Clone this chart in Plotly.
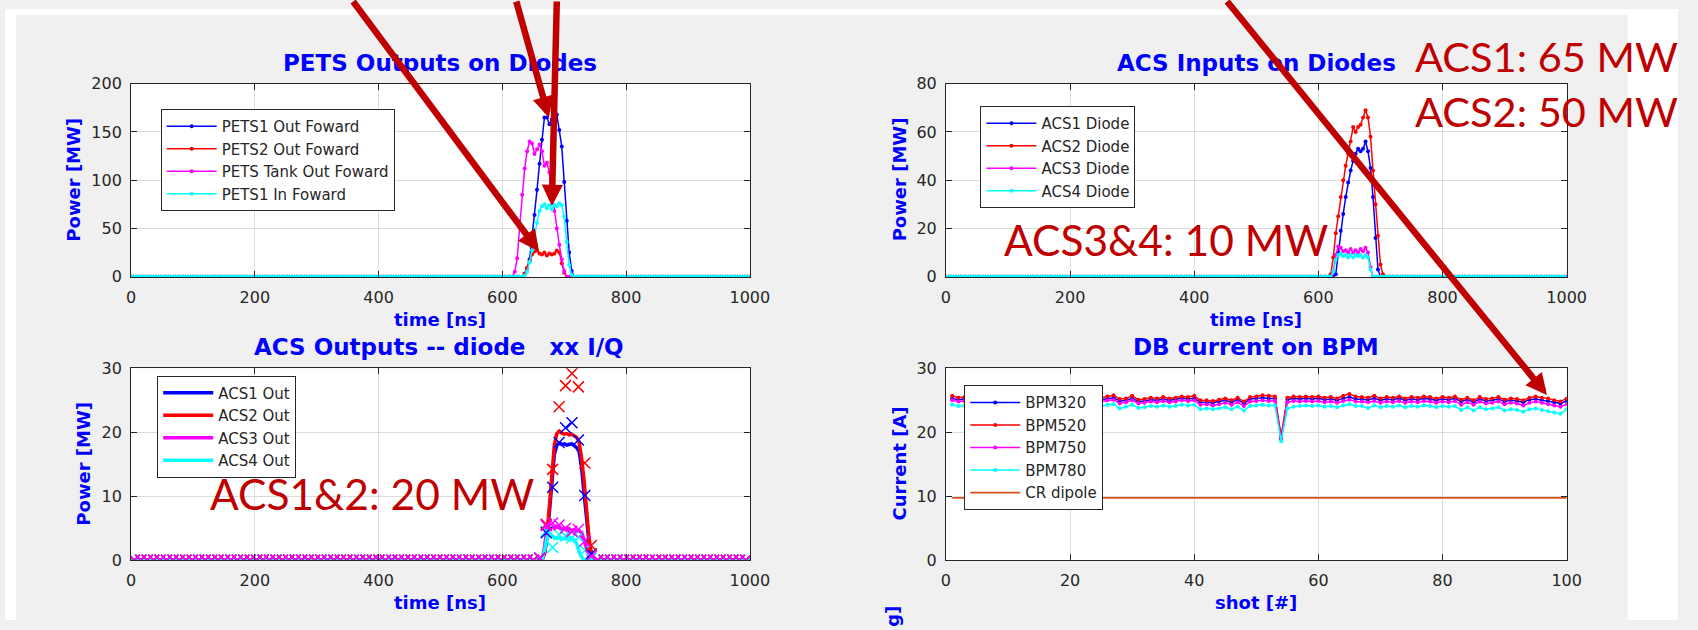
import numpy as np
import plotly.graph_objects as go

W, H = 1698, 630

def px(x):
    return x / W

def py(y):
    return 1 - y / H

# ---------------- DATA ----------------
BASELINE = 0.0          # all diode/IQ signals sit at ~0 outside the pulse
GRID_NS = list(range(0, 1001, 4))   # diode sampling grid [ns]

# Panel 1: PETS Outputs on Diodes [MW]
pets_t = [612, 616, 620, 624, 628, 632, 636, 640, 644, 648, 652, 656, 660, 664,
          668, 672, 676, 680, 684, 688, 692, 696, 700, 704, 708, 712, 716, 720]
pets1_out = [0, 0, 0, 0, 0, 0, 3, 9, 18, 40, 64, 90, 117, 142,
             165, 165, 158, 163, 170, 168, 152, 135, 98, 58, 25, 6, 0, 0]
pets2_out = [0, 0, 0, 0, 0, 0, 3, 9, 16, 23, 26, 27, 24, 23,
             25, 22, 24, 23, 24, 27, 25, 14, 4, 0, 0, 0, 0, 0]
pets_tank_out = [0, 0, 5, 19, 52, 85, 112, 130, 140, 138, 127, 132, 137, 130,
                 115, 118, 108, 88, 68, 50, 33, 18, 6, 0, 0, 0, 0, 0]
pets1_in = [0, 0, 0, 0, 0, 0, 1, 5, 15, 27, 42, 56, 68, 73,
            75, 71, 74, 70, 74, 73, 76, 74, 62, 36, 12, 2, 0, 0]

# Panel 2: ACS Inputs on Diodes [MW]
acsin_t = [612, 616, 620, 624, 628, 632, 636, 640, 644, 648, 652, 656, 660,
           664, 668, 672, 676, 680, 684, 688, 692, 696, 700, 704, 708, 712]
acs1_diode = [0, 0, 0, 0, 1, 10, 19, 26, 33, 39, 44, 48, 51,
              53, 52, 53, 56, 52, 45, 33, 16, 3, 0, 0, 0, 0]
acs2_diode = [0, 0, 1, 8, 18, 25, 33, 40, 46, 51, 56, 62, 60,
              62, 63, 66, 69, 66, 58, 44, 30, 17, 5, 1, 0, 0]
acs3_diode = [0, 0, 0, 2, 9, 12.5, 12, 10.5, 11, 10, 11.5, 10, 11,
              10, 11.5, 10.5, 12, 10, 4, 0, 0, 0, 0, 0, 0, 0]
acs4_diode = [0, 0, 0, 2, 7, 9, 9.5, 8.5, 9, 8, 9, 8, 9,
              8.5, 9, 8, 9, 8, 3, 0, 0, 0, 0, 0, 0, 0]

# Panel 3: ACS Outputs -- diode (lines) [MW]
acsout_t = [660, 664, 668, 672, 676, 680, 684, 688, 692, 696, 700, 704,
            708, 712, 716, 720, 724, 728, 732, 736, 740, 744, 748, 752]
acs1_out = [0, 0, 1, 3.5, 7.5, 12.5, 16.5, 18, 18.3, 18.1, 18.2, 18,
            18.1, 18.2, 17.9, 17.6, 17, 14.5, 10.5, 6.5, 2.8, 0.8, 0, 0]
acs2_out = [0, 0, 1, 4, 8.5, 13.5, 18, 19.8, 20.2, 19.9, 19.7, 19.8,
            19.6, 19.7, 19.4, 19.2, 18.5, 16, 12.5, 8, 3.5, 1, 0, 0]
acs3_out = [0, 0, 2, 5, 5.6, 5.3, 5, 5.3, 5, 4.8, 5, 4.7,
            4.9, 4.6, 4.8, 4.5, 4.6, 4.3, 3.2, 1.6, 0.5, 0, 0, 0]
acs4_out = [0, 0, 1.5, 3.5, 4.2, 3.8, 3.5, 3.4, 3.5, 3.3, 3.4, 3.3,
            3.5, 3.4, 3.2, 2.6, 1.3, 0.5, 0, 0, 0, 0, 0, 0]

# Panel 3: I/Q points (x markers), sampled every ~10.4 ns
IQ_GRID_NS = [round(5.3 + 10.4 * k, 1) for k in range(96)]
iq_t = [660.5, 670.9, 681.3, 691.7, 702.1, 712.5, 722.9, 733.3, 743.7]
acs1_iq = [0.3, 4.3, 11.4, 18.4, 20.7, 21.5, 18.8, 10.1, 1.0]
acs2_iq = [0.3, 5.6, 14.2, 24.0, 27.3, 29.2, 27.1, 15.2, 2.3]
acs3_iq = [0.3, 5.4, 5.8, 5.5, 5.0, 4.5, 4.8, 3.0, 0.6]
acs4_iq = [0.3, 4.5, 2.0, 4.0, 3.8, 3.5, 3.6, 1.5, 0.3]

# Panel 4: DB current on BPM [A] vs shot
shots = list(range(1, 101))
bpm320 = [25.3, 25.1, 25.2, 25.0, 25.1, 25.2, 25.0, 25.1, 25.3, 25.1,
          25.0, 25.2, 25.1, 24.9, 25.1, 25.2, 25.0, 25.1, 25.0, 25.2,
          25.1, 24.9, 25.2, 25.0, 25.1, 25.3, 25.4, 24.9, 25.0, 25.3,
          24.8, 24.9, 25.1, 25.0, 25.2, 25.0, 25.1, 25.3, 25.2, 25.3,
          24.7, 24.7, 24.6, 24.8, 25.0, 24.7, 25.1, 24.5, 25.2, 25.3,
          25.4, 25.3, 25.3, 19.1, 25.1, 25.3, 25.2, 25.3, 25.2, 25.3,
          25.1, 25.2, 25.0, 25.3, 25.5, 25.2, 25.2, 25.1, 25.3, 25.0,
          25.2, 25.1, 25.3, 25.0, 25.2, 25.1, 25.3, 25.2, 25.0, 25.2,
          25.1, 25.3, 24.8, 25.1, 24.7, 25.2, 24.9, 25.0, 25.2, 24.8,
          25.0, 24.9, 24.7, 25.1, 25.2, 25.0, 24.9, 24.7, 24.5, 24.9]
bpm520 = [25.7, 25.4, 25.5, 25.3, 25.4, 25.5, 25.3, 25.4, 25.6, 25.4,
          25.3, 25.5, 25.4, 25.2, 25.4, 25.5, 25.3, 25.4, 25.3, 25.5,
          25.4, 25.2, 25.5, 25.3, 25.4, 25.6, 25.8, 25.2, 25.3, 25.7,
          25.1, 25.2, 25.4, 25.3, 25.5, 25.3, 25.4, 25.6, 25.5, 25.7,
          25.0, 25.0, 24.9, 25.1, 25.3, 25.0, 25.4, 24.8, 25.5, 25.6,
          25.8, 25.7, 25.6, 19.4, 25.4, 25.6, 25.5, 25.6, 25.5, 25.6,
          25.4, 25.5, 25.3, 25.7, 26.0, 25.6, 25.5, 25.4, 25.7, 25.3,
          25.5, 25.4, 25.6, 25.3, 25.5, 25.4, 25.6, 25.5, 25.3, 25.5,
          25.4, 25.6, 25.1, 25.4, 25.0, 25.5, 25.2, 25.3, 25.5, 25.1,
          25.3, 25.2, 25.0, 25.4, 25.6, 25.4, 25.3, 25.0, 24.8, 25.3]
bpm750 = [25.0, 24.8, 24.9, 24.7, 24.8, 24.9, 24.7, 24.8, 25.0, 24.8,
          24.7, 24.9, 24.8, 24.6, 24.8, 24.9, 24.7, 24.8, 24.7, 24.9,
          24.8, 24.6, 24.9, 24.7, 24.8, 25.0, 25.1, 24.5, 24.7, 25.0,
          24.5, 24.6, 24.8, 24.7, 24.9, 24.7, 24.8, 25.0, 24.9, 25.0,
          24.3, 24.4, 24.2, 24.4, 24.6, 24.3, 24.7, 24.1, 24.8, 24.9,
          25.0, 24.9, 24.9, 18.9, 24.7, 24.9, 24.8, 24.9, 24.8, 24.9,
          24.7, 24.8, 24.6, 24.9, 25.1, 24.8, 24.8, 24.7, 24.9, 24.6,
          24.8, 24.7, 24.9, 24.6, 24.8, 24.7, 24.9, 24.8, 24.6, 24.8,
          24.7, 24.9, 24.3, 24.7, 24.3, 24.8, 24.5, 24.6, 24.8, 24.4,
          24.6, 24.5, 24.2, 24.6, 24.8, 24.6, 24.4, 24.2, 24.0, 24.4]
bpm780 = [24.3, 24.1, 24.2, 24.0, 24.1, 24.2, 24.0, 24.1, 24.3, 24.1,
          24.0, 24.2, 24.1, 23.9, 24.1, 24.2, 24.0, 24.1, 24.0, 24.2,
          24.1, 23.9, 24.2, 24.0, 24.1, 24.3, 24.4, 23.7, 24.0, 24.3,
          23.8, 23.9, 24.1, 24.0, 24.2, 24.0, 24.1, 24.3, 24.2, 24.3,
          23.6, 23.7, 23.6, 23.7, 23.9, 23.6, 24.0, 23.4, 24.1, 24.2,
          24.3, 24.2, 24.2, 18.6, 23.7, 24.0, 24.1, 24.2, 24.1, 24.2,
          24.0, 24.1, 23.9, 24.2, 24.4, 24.1, 24.1, 23.8, 24.2, 23.9,
          24.1, 24.0, 24.2, 23.9, 24.1, 24.0, 24.2, 24.1, 23.9, 24.1,
          24.0, 24.1, 23.5, 23.9, 23.4, 23.9, 23.6, 23.7, 23.9, 23.4,
          23.6, 23.5, 23.2, 23.6, 23.7, 23.5, 23.3, 23.1, 22.9, 23.6]
cr_dipole = [9.75, 9.75, 9.75, 9.75, 9.75, 9.75, 9.75, 9.75, 9.75, 9.75,
             9.75, 9.75, 9.75, 9.75, 9.75, 9.75, 9.75, 9.75, 9.75, 9.75,
             9.75, 9.75, 9.75, 9.75, 9.75, 9.75, 9.75, 9.75, 9.75, 9.75,
             9.75, 9.75, 9.75, 9.75, 9.75, 9.75, 9.75, 9.75, 9.75, 9.75,
             9.75, 9.75, 9.75, 9.75, 9.75, 9.75, 9.75, 9.75, 9.75, 9.75,
             9.75, 9.75, 9.75, 9.75, 9.75, 9.75, 9.75, 9.75, 9.75, 9.75,
             9.75, 9.75, 9.75, 9.75, 9.75, 9.75, 9.75, 9.75, 9.75, 9.75,
             9.75, 9.75, 9.75, 9.75, 9.75, 9.75, 9.75, 9.75, 9.75, 9.75,
             9.75, 9.75, 9.75, 9.75, 9.75, 9.75, 9.75, 9.75, 9.75, 9.75,
             9.75, 9.75, 9.75, 9.75, 9.75, 9.75, 9.75, 9.75, 9.75, 9.75]

# ---------------- helpers ----------------
def full_series(grid, pulse_t, pulse_v, base=BASELINE):
    before = [g for g in grid if g < pulse_t[0]]
    after = [g for g in grid if g > pulse_t[-1]]
    t = before + list(pulse_t) + after
    v = [base] * len(before) + list(pulse_v) + [base] * len(after)
    return t, v

BLUE, RED, MAG, CYAN, ORANGE = '#0000FF', '#FF0000', '#FF00FF', '#00FFFF', '#D95319'
TXT = '#262626'
DARKRED = '#C00000'

fig = go.Figure()

def add_dotline(t, v, name, color, xa, ya, leg):
    fig.add_trace(go.Scatter(x=t, y=v, name=name, mode='lines+markers',
                             line=dict(color=color, width=1.5),
                             marker=dict(color=color, size=4),
                             xaxis=xa, yaxis=ya, legend=leg))

# Panel 1
for vals, name, col in [(pets1_out, 'PETS1 Out Foward', BLUE),
                        (pets2_out, 'PETS2 Out Foward', RED),
                        (pets_tank_out, 'PETS Tank Out Foward', MAG),
                        (pets1_in, 'PETS1 In Foward', CYAN)]:
    t, v = full_series(GRID_NS, pets_t, vals)
    add_dotline(t, v, name, col, 'x', 'y', 'legend')

# Panel 2
for vals, name, col in [(acs1_diode, 'ACS1 Diode', BLUE),
                        (acs2_diode, 'ACS2 Diode', RED),
                        (acs3_diode, 'ACS3 Diode', MAG),
                        (acs4_diode, 'ACS4 Diode', CYAN)]:
    t, v = full_series(GRID_NS, acsin_t, vals)
    add_dotline(t, v, name, col, 'x2', 'y2', 'legend2')

# Panel 3 lines
for vals, name, col in [(acs1_out, 'ACS1 Out', BLUE),
                        (acs2_out, 'ACS2 Out', RED),
                        (acs3_out, 'ACS3 Out', MAG),
                        (acs4_out, 'ACS4 Out', CYAN)]:
    t, v = full_series(GRID_NS, acsout_t, vals)
    fig.add_trace(go.Scatter(x=t, y=v, name=name, mode='lines',
                             line=dict(color=col, width=3.5),
                             xaxis='x3', yaxis='y3', legend='legend3'))
# Panel 3 IQ markers
for vals, col in [(acs4_iq, CYAN), (acs1_iq, BLUE), (acs2_iq, RED), (acs3_iq, MAG)]:
    t, v = full_series(IQ_GRID_NS, iq_t, vals)
    fig.add_trace(go.Scatter(x=t, y=v, mode='markers', showlegend=False,
                             marker=dict(symbol='x-thin-open', size=11, color=col,
                                         line=dict(color=col, width=1.5)),
                             xaxis='x3', yaxis='y3'))

# Panel 4
for vals, name, col in [(bpm320, 'BPM320', BLUE), (bpm520, 'BPM520', RED),
                        (bpm750, 'BPM750', MAG), (bpm780, 'BPM780', CYAN)]:
    fig.add_trace(go.Scatter(x=shots, y=vals, name=name, mode='lines+markers',
                             line=dict(color=col, width=1.5),
                             marker=dict(color=col, size=4),
                             xaxis='x4', yaxis='y4', legend='legend4'))
fig.add_trace(go.Scatter(x=shots, y=cr_dipole, name='CR dipole', mode='lines',
                         line=dict(color=ORANGE, width=1.8),
                         xaxis='x4', yaxis='y4', legend='legend4'))

# ---------------- layout ----------------
X_L = (128, 756)
X_R = (955, 1585)
Y_T = (77, 276)
Y_B = (370.5, 568.3)

def xdom(r):
    return [px(r[0]), px(r[1])]

def ydom(r):
    return [py(r[1]), py(r[0])]

tickfont = dict(family='DejaVu Sans', size=16, color=TXT)
axis_common = dict(showline=True, linecolor=TXT, linewidth=1, mirror='ticks',
                   ticks='inside', ticklen=6, tickcolor=TXT, showgrid=True,
                   gridcolor='#dcdcdc', gridwidth=1, zeroline=False,
                   tickfont=tickfont, fixedrange=True)

def xa(r, rng, dtick, anchor):
    d = dict(axis_common)
    d.update(domain=xdom(r), range=rng, dtick=dtick, tick0=0, anchor=anchor,
             ticklabelstandoff=6)
    return d

def ya(r, rng, dtick, anchor):
    d = dict(axis_common)
    d.update(domain=ydom(r), range=rng, dtick=dtick, tick0=0, anchor=anchor,
             ticklabelstandoff=5)
    return d

legfont = dict(family='DejaVu Sans', size=15, color=TXT)

def leg(x, y):
    return dict(x=px(x), y=py(y), xanchor='left', yanchor='top', bgcolor='white',
                bordercolor=TXT, borderwidth=1, font=legfont, tracegroupgap=0,
                itemwidth=50)

ann = []

def text_ann(x, y, text, size, color, bold=False, angle=0, xanchor='center',
             yanchor='middle', family='DejaVu Sans'):
    ann.append(dict(x=px(x), y=py(y), xref='paper', yref='paper', text=text,
                    showarrow=False, textangle=angle, xanchor=xanchor,
                    yanchor=yanchor,
                    font=dict(family=family, size=size, color=color,
                              weight='bold' if bold else 'normal')))

# titles
text_ann(442, 56, 'PETS Outputs on Diodes', 23, BLUE, bold=True)
text_ann(1270, 56, 'ACS Inputs on Diodes', 23, BLUE, bold=True)
text_ann(440, 349, 'ACS Outputs -- diode   xx I/Q', 23, BLUE, bold=True)
text_ann(1270, 349, 'DB current on BPM', 23, BLUE, bold=True)
# axis titles
text_ann(442, 320, 'time [ns]', 18, BLUE, bold=True)
text_ann(1270, 320, 'time [ns]', 18, BLUE, bold=True)
text_ann(442, 612, 'time [ns]', 18, BLUE, bold=True)
text_ann(1270, 612, 'shot [#]', 18, BLUE, bold=True)
text_ann(70, 176, 'Power [MW]', 18, BLUE, bold=True, angle=-90)
text_ann(908, 176, 'Power [MW]', 18, BLUE, bold=True, angle=-90)
text_ann(80, 469, 'Power [MW]', 18, BLUE, bold=True, angle=-90)
text_ann(908, 469, 'Current [A]', 18, BLUE, bold=True, angle=-90)
text_ann(900, 613, 'g]', 18, BLUE, bold=True, angle=-90, yanchor='top')

# overlay annotations (red)
RED_FONT = 'Lato'
text_ann(1429, 48, 'ACS1: 65 MW', 41.5, DARKRED, family=RED_FONT, xanchor='left')
text_ann(1429, 105, 'ACS2: 50 MW', 41.5, DARKRED, family=RED_FONT, xanchor='left')
text_ann(1012, 238, 'ACS3&4: 10 MW', 42.5, DARKRED, family=RED_FONT, xanchor='left')
text_ann(206, 500, 'ACS1&2: 20 MW', 42.5, DARKRED, family=RED_FONT, xanchor='left')

def arrow(tip, tail):
    ann.append(dict(x=px(tip[0]), y=py(tip[1]), xref='paper', yref='paper',
                    ax=tail[0] - tip[0], ay=tail[1] - tip[1], text='',
                    showarrow=True, arrowhead=2, arrowsize=0.65, arrowwidth=6.5,
                    arrowcolor=DARKRED))

arrow((542, 250), (355, -10))
arrow((552, 112), (519, -11))
arrow((555, 203), (560, -10))
arrow((1565, 398), (1244, -12))

shapes = [
    dict(type='rect', xref='paper', yref='paper', x0=0, x1=px(11), y0=0, y1=1,
         fillcolor='white', line=dict(width=0), layer='below'),
    dict(type='rect', xref='paper', yref='paper', x0=0, x1=1, y0=py(6), y1=1,
         fillcolor='white', line=dict(width=0), layer='below'),
    dict(type='rect', xref='paper', yref='paper', x0=px(1647), x1=1, y0=0, y1=1,
         fillcolor='white', line=dict(width=0), layer='below'),
]

fig.update_layout(
    width=W, height=H, autosize=False,
    margin=dict(l=0, r=0, t=0, b=0),
    paper_bgcolor='#F0F0F0', plot_bgcolor='white',
    xaxis=xa(X_L, [0, 1000], 200, 'y'),
    yaxis=ya(Y_T, [0, 200], 50, 'x'),
    xaxis2=xa(X_R, [0, 1000], 200, 'y2'),
    yaxis2=ya(Y_T, [0, 80], 20, 'x2'),
    xaxis3=xa(X_L, [0, 1000], 200, 'y3'),
    yaxis3=ya(Y_B, [0, 30], 10, 'x3'),
    xaxis4=xa(X_R, [0, 100], 20, 'y4'),
    yaxis4=ya(Y_B, [0, 30], 10, 'x4'),
    legend=leg(158, 103),
    legend2=leg(990, 100),
    legend3=leg(154.5, 378),
    legend4=leg(973.6, 388),
    annotations=ann,
    shapes=shapes,
    showlegend=True,
)

fig.write_html('out.html')
